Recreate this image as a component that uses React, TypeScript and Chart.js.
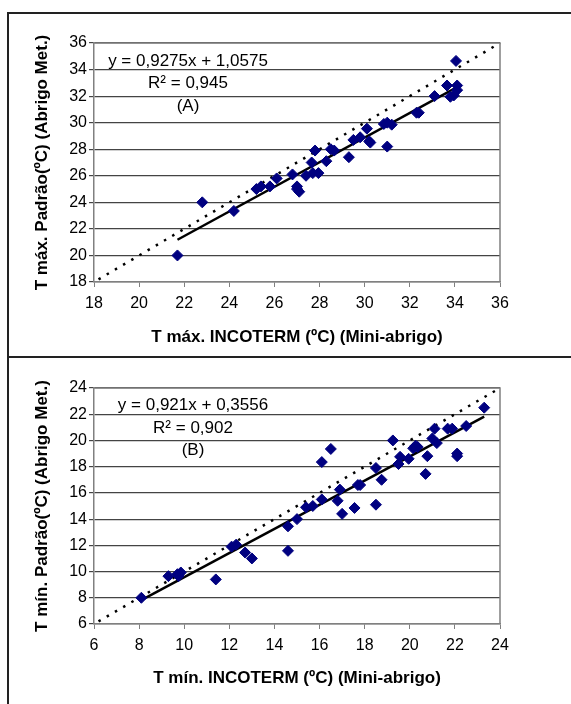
import React, { useEffect, useRef } from "react";
import { Chart, registerables } from "chart.js";

Chart.register(...registerables);

// ---- Data: panel A (T max) ----
const maxIncoterm = [
  21.7, 22.8, 24.2, 25.2, 25.4, 25.8, 26.1, 26.8, 27.0, 27.0, 27.1, 27.4, 27.65, 27.8, 27.7, 27.95,
  28.3, 28.5, 28.65, 29.3, 29.5, 29.8, 30.1, 30.2, 30.25, 30.85, 31.0, 31.0, 31.2, 32.3, 32.4,
  33.1, 33.65, 33.8, 33.95, 34.05, 34.1, 34.1,
];
const maxPadrao = [
  20.0, 24.0, 23.35, 25.0, 25.2, 25.2, 25.8, 26.1, 25.2, 25.0, 24.8, 26.0, 27.0, 27.9, 26.2, 26.2,
  27.1, 28.0, 27.9, 27.4, 28.7, 28.9, 29.55, 28.6, 28.5, 29.9, 30.0, 28.2, 29.85, 30.75, 30.75,
  32.0, 32.8, 31.95, 32.05, 34.65, 32.8, 32.45,
];
const trendAX = [21.7, 34.1];
const trendAY = [21.18, 32.68];
const identityA = [18.2, 36];
const ticksA = [18, 20, 22, 24, 26, 28, 30, 32, 34, 36];

// ---- Data: panel B (T min) ----
const minIncoterm = [
  8.1, 9.3, 9.7, 9.85, 9.75, 11.4, 12.1, 12.3, 12.7, 13.0, 14.6, 14.6, 15.0, 15.4, 15.7, 16.1,
  16.1, 16.5, 16.8, 16.9, 17.0, 17.55, 17.7, 17.8, 18.5, 18.5, 18.75, 19.25, 19.5, 19.57, 19.95,
  20.15, 20.26, 20.35, 20.7, 20.78, 21.0, 21.1, 21.2, 21.68, 21.88, 22.1, 22.1, 22.5, 23.3,
];
const minPadrao = [
  8.0, 9.65, 9.8, 9.93, 9.65, 9.4, 11.9, 12.05, 11.45, 11.0, 13.45, 11.58, 14.0, 14.9, 15.0, 15.5,
  18.35, 19.35, 15.4, 16.25, 14.4, 14.85, 16.6, 16.6, 17.9, 15.1, 17.0, 20.0, 18.2, 18.75, 18.6,
  19.4, 19.6, 19.5, 17.45, 18.8, 20.15, 20.9, 19.8, 20.9, 20.9, 19.0, 18.8, 21.1, 22.5,
];
const trendBX = [8.1, 23.3];
const trendBY = [7.82, 21.82];
const identityB = [6.2, 24];
const ticksB = [6, 8, 10, 12, 14, 16, 18, 20, 22, 24];

const FONT = "'Liberation Sans', Arial, sans-serif";

type PanelCfg = {
  xs: number[];
  ys: number[];
  tx: number[];
  ty: number[];
  id: number[];
  ticks: number[];
  xTitle: string;
  yTitle: string;
  labels: string[];
  padTop: number;
  xAxisH: number;
  xTitlePad: number;
  textX: number;
  textY: number[];
};

const pts = (xs: number[], ys: number[]) => xs.map((x, i) => ({ x, y: ys[i] }));

function makeChart(canvas: HTMLCanvasElement, c: PanelCfg) {
  const annot = {
    id: "annot",
    afterDraw(chart: any) {
      const { ctx, chartArea } = chart;
      ctx.save();
      // plot box top/right
      ctx.strokeStyle = "#808080";
      ctx.lineWidth = 1.5;
      ctx.beginPath();
      ctx.moveTo(chartArea.left, chartArea.top);
      ctx.lineTo(chartArea.right, chartArea.top);
      ctx.lineTo(chartArea.right, chartArea.bottom);
      ctx.stroke();
      ctx.fillStyle = "#000";
      ctx.font = `17px ${FONT}`;
      ctx.textAlign = "center";
      ctx.textBaseline = "middle";
      c.labels.forEach((t, i) => {
        ctx.fillText(t, chartArea.left + c.textX, chartArea.top + c.textY[i]);
      });
      ctx.restore();
    },
  };
  const min = c.ticks[0];
  const max = c.ticks[c.ticks.length - 1];
  return new Chart(canvas, {
    type: "scatter",
    data: {
      datasets: [
        {
          data: pts(c.xs, c.ys),
          pointStyle: "rectRot",
          pointRadius: 5.5,
          backgroundColor: "#000080",
          borderColor: "#000080",
          borderWidth: 1,
        },
        {
          type: "line",
          data: pts(c.tx, c.ty),
          borderColor: "#000",
          borderWidth: 2.5,
          pointRadius: 0,
          fill: false,
        },
        {
          type: "line",
          data: pts(c.id, c.id),
          borderColor: "#000",
          borderWidth: 2.5,
          borderDash: [2.5, 7],
          pointRadius: 0,
          fill: false,
          clip: false,
        },
      ] as any,
    },
    options: {
      responsive: false,
      animation: false,
      devicePixelRatio: 1,
      layout: { padding: { top: c.padTop, right: 71, left: 0, bottom: 0 } },
      plugins: { legend: { display: false }, tooltip: { enabled: false } },
      scales: {
        x: {
          type: "linear",
          min,
          max,
          afterFit: (s: any) => {
            s.height = c.xAxisH;
          },
          ticks: {
            stepSize: 2,
            color: "#000",
            font: { family: FONT, size: 16 },
            padding: 7,
            maxRotation: 0,
          },
          grid: { drawOnChartArea: false, tickLength: 5, color: "#808080" },
          border: { color: "#808080", width: 1.5 },
          title: {
            display: true,
            text: c.xTitle,
            color: "#000",
            font: { family: FONT, size: 17, weight: "bold" },
            padding: { top: 0, bottom: c.xTitlePad },
          },
        },
        y: {
          type: "linear",
          min,
          max,
          afterFit: (s: any) => {
            s.width = 94;
          },
          ticks: {
            stepSize: 2,
            color: "#000",
            font: { family: FONT, size: 16 },
            padding: 2,
          },
          grid: { color: "#444", tickLength: 5, lineWidth: 1.2 },
          border: { color: "#808080", width: 1.5 },
          title: {
            display: true,
            text: c.yTitle,
            color: "#000",
            font: { family: FONT, size: 17, weight: "bold" },
            padding: { top: 31.8, bottom: 0 },
          },
        },
      },
    } as any,
    plugins: [annot],
  });
}

export default function App() {
  const topRef = useRef<HTMLCanvasElement>(null);
  const botRef = useRef<HTMLCanvasElement>(null);

  useEffect(() => {
    const a = makeChart(topRef.current!, {
      xs: maxIncoterm,
      ys: maxPadrao,
      tx: trendAX,
      ty: trendAY,
      id: identityA,
      ticks: ticksA,
      xTitle: "T máx. INCOTERM (ºC) (Mini-abrigo)",
      yTitle: "T máx. Padrão(ºC) (Abrigo Met.)",
      labels: ["y = 0,9275x + 1,0575", "R² = 0,945", "(A)"],
      padTop: 43,
      xAxisH: 75,
      xTitlePad: 9.8,
      textX: 94,
      textY: [18, 40, 63],
    });
    const b = makeChart(botRef.current!, {
      xs: minIncoterm,
      ys: minPadrao,
      tx: trendBX,
      ty: trendBY,
      id: identityB,
      ticks: ticksB,
      xTitle: "T mín. INCOTERM (ºC) (Mini-abrigo)",
      yTitle: "T mín. Padrão(ºC) (Abrigo Met.)",
      labels: ["y = 0,921x + 0,3556", "R² = 0,902", "(B)"],
      padTop: 31,
      xAxisH: 80,
      xTitlePad: 15.8,
      textX: 99,
      textY: [17, 40, 62],
    });
    return () => {
      a.destroy();
      b.destroy();
    };
  }, []);

  return (
    <div
      style={{
        position: "fixed",
        left: 0,
        top: 0,
        width: 571,
        height: 704,
        background: "#fff",
        overflow: "hidden",
      }}
    >
      <canvas
        ref={topRef}
        width={571}
        height={357}
        style={{ position: "absolute", left: 0, top: 0, width: 571, height: 357 }}
      />
      <canvas
        ref={botRef}
        width={571}
        height={347}
        style={{ position: "absolute", left: 0, top: 357, width: 571, height: 347 }}
      />
      <div
        style={{
          position: "absolute",
          left: 7,
          top: 12,
          width: 600,
          height: 720,
          borderLeft: "2px solid #222",
          borderTop: "2px solid #222",
          pointerEvents: "none",
        }}
      />
      <div
        style={{
          position: "absolute",
          left: 7,
          top: 356,
          width: 600,
          height: 0,
          borderTop: "2px solid #222",
          pointerEvents: "none",
        }}
      />
    </div>
  );
}
